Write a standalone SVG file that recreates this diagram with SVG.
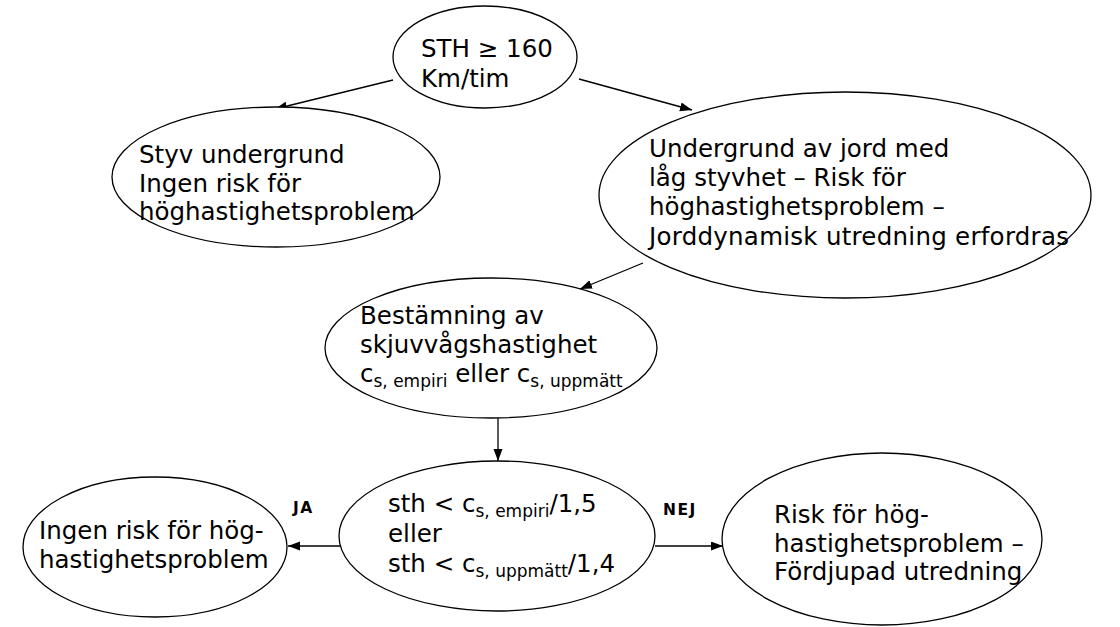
<svg xmlns="http://www.w3.org/2000/svg" width="1120" height="627" viewBox="0 0 1120 627">
<defs>
<style>
.n{fill:#fff;stroke:#000;stroke-width:1.3}
.t{font-family:"DejaVu Sans","Liberation Sans",sans-serif;font-size:24.5px;fill:#000}
.sub{font-size:17px}
.lbl{font-family:"DejaVu Sans","Liberation Sans",sans-serif;font-size:15.5px;font-weight:bold;fill:#000;letter-spacing:1.5px}
.c{stroke:#000;stroke-width:1.3;fill:none;marker-end:url(#ah)}
</style>
<marker id="ah" markerUnits="userSpaceOnUse" markerWidth="13" markerHeight="10" refX="12" refY="4.5" orient="auto">
<path d="M0,0 L12,4.5 L0,9 z" fill="#000"/>
</marker>
</defs>
<rect width="1120" height="627" fill="#fff"/>
<g id="connectors">
<line class="c" x1="393" y1="80" x2="275" y2="109"/>
<line class="c" x1="579" y1="79" x2="692" y2="110"/>
<line class="c" x1="643" y1="263" x2="580" y2="289"/>
<line class="c" x1="498" y1="418" x2="498" y2="461"/>
<line class="c" x1="340" y1="546" x2="288" y2="546"/>
<line class="c" x1="655" y1="546" x2="723" y2="546"/>
<text class="lbl" x="293" y="513">JA</text>
<text class="lbl" x="663" y="515">NEJ</text>
</g>
<g id="n_sth">
<ellipse class="n" cx="485" cy="57" rx="92" ry="51"/>
<text class="t" x="421" y="57">STH ≥ 160</text>
<text class="t" x="421" y="87">Km/tim</text>
</g>
<g id="n_styv">
<ellipse class="n" cx="276" cy="177" rx="164" ry="70"/>
<text class="t" x="139" y="163">Styv undergrund</text>
<text class="t" x="139" y="192">Ingen risk för</text>
<text class="t" x="139" y="220">höghastighetsproblem</text>
</g>
<g id="n_jord">
<ellipse class="n" cx="845" cy="195" rx="246" ry="103"/>
<text class="t" x="649" y="157">Undergrund av jord med</text>
<text class="t" x="649" y="186">låg styvhet – Risk för</text>
<text class="t" x="649" y="215">höghastighetsproblem –</text>
<text class="t" x="649" y="245" textLength="420" lengthAdjust="spacing">Jorddynamisk utredning erfordras</text>
</g>
<g id="n_best">
<ellipse class="n" cx="491" cy="348" rx="166" ry="70"/>
<text class="t" x="360" y="324">Bestämning av</text>
<text class="t" x="360" y="353">skjuvvågshastighet</text>
<text class="t" x="360" y="382">c<tspan class="sub" dy="5">s, empiri</tspan><tspan dy="-5"> eller c</tspan><tspan class="sub" dy="5">s, uppmätt</tspan></text>
</g>
<g id="n_ingen">
<ellipse class="n" cx="155" cy="547" rx="132" ry="70"/>
<text class="t" x="39" y="539">Ingen risk för hög-</text>
<text class="t" x="39" y="568">hastighetsproblem</text>
</g>
<g id="n_cond">
<ellipse class="n" cx="497" cy="536" rx="158" ry="75"/>
<text class="t" x="388" y="512">sth &lt; c<tspan class="sub" dy="5">s, empiri</tspan><tspan dy="-5">/1,5</tspan></text>
<text class="t" x="388" y="542">eller</text>
<text class="t" x="388" y="572">sth &lt; c<tspan class="sub" dy="5">s, uppmätt</tspan><tspan dy="-5">/1,4</tspan></text>
</g>
<g id="n_risk">
<ellipse class="n" cx="882" cy="539" rx="160" ry="86"/>
<text class="t" x="774" y="523">Risk för hög-</text>
<text class="t" x="774" y="552">hastighetsproblem –</text>
<text class="t" x="774" y="580">Fördjupad utredning</text>
</g>
</svg>
